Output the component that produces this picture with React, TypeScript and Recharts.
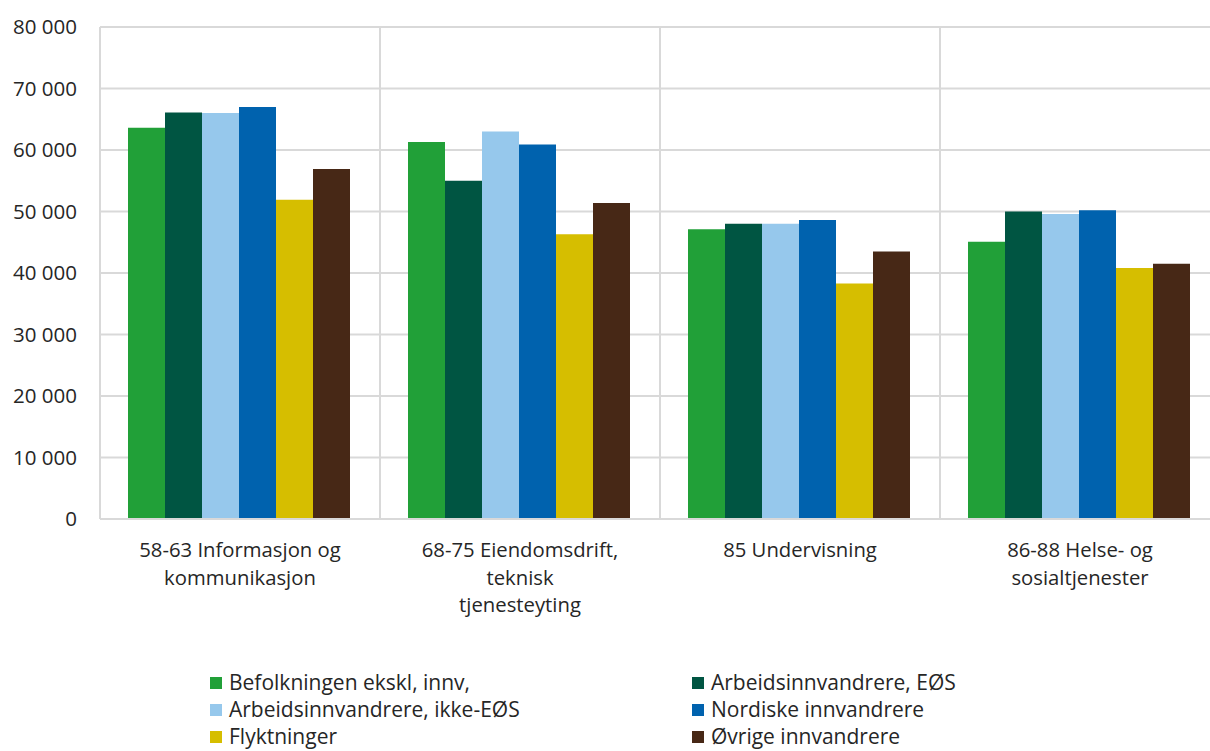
import { BarChart, Bar, XAxis, YAxis, CartesianGrid } from "recharts";

// Categories (næring), split into the lines shown under the axis
const categories = [
	["58-63 Informasjon og", "kommunikasjon"],
	["68-75 Eiendomsdrift,", "teknisk", "tjenesteyting"],
	["85 Undervisning"],
	["86-88 Helse- og", "sosialtjenester"],
];

const seriesNames = [
	"Befolkningen ekskl, innv,",
	"Arbeidsinnvandrere, EØS",
	"Arbeidsinnvandrere, ikke-EØS",
	"Nordiske innvandrere",
	"Flyktninger",
	"Øvrige innvandrere",
];

const befolkning = [63600, 61300, 47100, 45100];
const arbeidEos = [66100, 55000, 48000, 50000];
const arbeidIkkeEos = [66000, 63000, 48000, 49600];
const nordiske = [67000, 60900, 48600, 50200];
const flyktninger = [51900, 46300, 38300, 40800];
const ovrige = [56900, 51400, 43500, 41500];

const yTicks = [0, 10000, 20000, 30000, 40000, 50000, 60000, 70000, 80000];

const COLORS = ["#21a038", "#005542", "#96c8ec", "#0062ae", "#d6be00", "#472816"];

const seriesValues = [befolkning, arbeidEos, arbeidIkkeEos, nordiske, flyktninger, ovrige];

const data = categories.map((lines, i) => {
	const row: Record<string, any> = { name: lines.join(" ") };
	seriesNames.forEach((s, k) => {
		row[s] = seriesValues[k][i];
	});
	return row;
});

const FONT = "'Open Sans', sans-serif";
const TEXT = "#262626";
const GRID = "#d9d9d9";

const formatTick = (v: number) =>
	v === 0 ? "0" : `${Math.floor(v / 1000)} ${String(v % 1000).padStart(3, "0")}`;

const CategoryTick = (props: any) => {
	const { x, y, index } = props;
	const lines = categories[index] || [];
	return (
		<text x={x} y={y + 38} textAnchor="middle" fill={TEXT} fontSize={20.3} fontFamily={FONT}>
			{lines.map((l, i) => (
				<tspan key={i} x={x} dy={i === 0 ? 0 : 27.5}>
					{l}
				</tspan>
			))}
		</text>
	);
};

export default function App() {
	return (
		<div
			style={{
				position: "absolute",
				left: 0,
				top: 0,
				width: 1210,
				height: 751,
				overflow: "hidden",
				background: "#fff",
			}}
		>
			<BarChart
				width={1230}
				height={751}
				data={data}
				margin={{ top: 27, right: 10, left: 10, bottom: 0 }}
				barCategoryGap="10%"
				barGap={0}
			>
				<CartesianGrid
					stroke={GRID}
					strokeWidth={2}
					verticalCoordinatesGenerator={({ offset }: any) =>
						[1, 2, 3].map((i) => offset.left + (i * offset.width) / 4)
					}
				/>
				<XAxis
					dataKey="name"
					height={232}
					tickLine={false}
					tickSize={0}
					tickMargin={0}
					axisLine={{ stroke: GRID, strokeWidth: 2 }}
					tick={<CategoryTick />}
					interval={0}
				/>
				<YAxis
					width={90}
					domain={[0, 80000]}
					ticks={yTicks}
					tickFormatter={formatTick}
					tickLine={false}
					tickSize={0}
					tickMargin={23}
					axisLine={{ stroke: GRID, strokeWidth: 2 }}
					tick={{ fill: TEXT, fontSize: 20.5, fontFamily: FONT }}
				/>
				{seriesNames.map((s, k) => (
					<Bar key={s} dataKey={s} fill={COLORS[k]} isAnimationActive={false} />
				))}
			</BarChart>
			<div
				style={{
					position: "absolute",
					left: 210,
					top: 669,
					display: "grid",
					gridTemplateColumns: "482px 300px",
					rowGap: 0,
					fontFamily: FONT,
					fontSize: 21,
					lineHeight: "27px",
					color: TEXT,
				}}
			>
				{seriesNames.map((s, k) => (
					<div key={s} style={{ display: "flex", alignItems: "center", height: 27 }}>
						<span
							style={{
								width: 12,
								height: 12,
								background: COLORS[k],
								marginRight: 7,
								display: "inline-block",
							}}
						/>
						<span>{s}</span>
					</div>
				))}
			</div>
		</div>
	);
}
